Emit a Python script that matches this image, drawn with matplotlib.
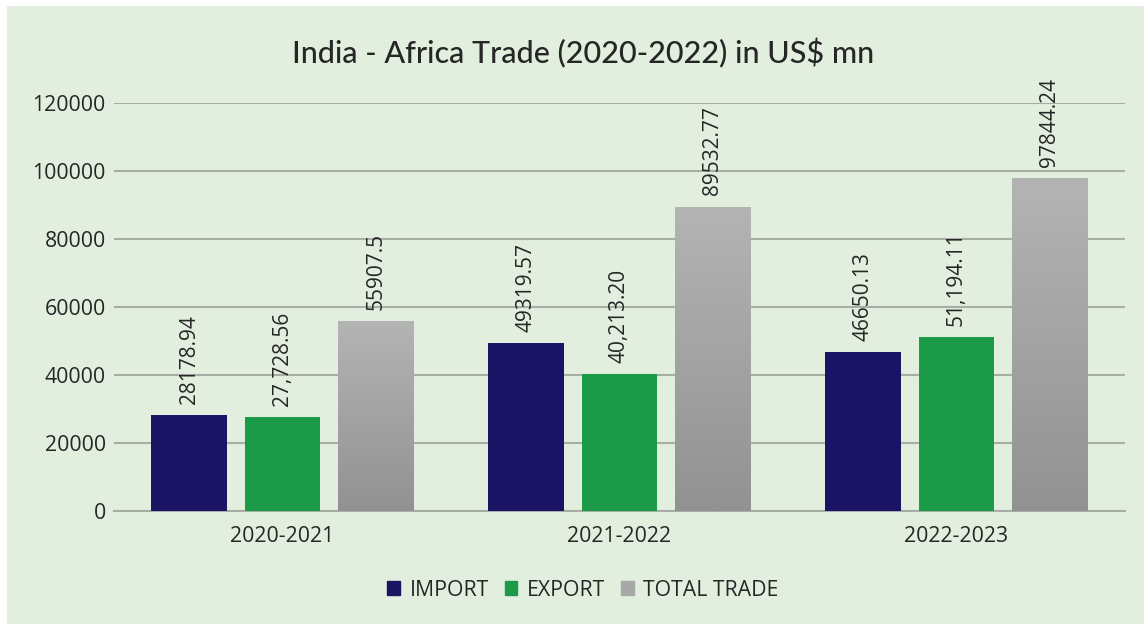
import matplotlib
matplotlib.use("Agg")
import matplotlib.pyplot as plt
from matplotlib.colors import LinearSegmentedColormap
from matplotlib.patches import Rectangle, Patch
import numpy as np

years = ["2020-2021", "2021-2022", "2022-2023"]
imports = [28178.94, 49319.57, 46650.13]
exports = [27728.56, 40213.20, 51194.11]
total_trade = [55907.5, 89532.77, 97844.24]
import_labels = ["28178.94", "49319.57", "46650.13"]
export_labels = ["27,728.56", "40,213.20", "51,194.11"]
total_labels = ["55907.5", "89532.77", "97844.24"]

BG = "#e2efdf"
NAVY = "#1b1464"
GREEN = "#1b9a48"
TXT = "#262626"
FONT = "Open Sans"

W, H = 1144, 624
fig = plt.figure(figsize=(W / 100, H / 100), dpi=100, facecolor="white")
fig.patches.append(Rectangle((7 / W, 0), 1 - 7 / W, 1 - 6 / H, transform=fig.transFigure,
                             facecolor=BG, edgecolor="none", zorder=-10))

# plot area: x 114..1125 px, y 103..511 px
ax = fig.add_axes([114 / W, 1 - 511 / H, 1011 / W, 408 / H])
ax.patch.set_alpha(0)

x = np.arange(len(years))
bw = 0.225
step = 0.277

b1 = ax.bar(x - step, imports, bw, color=NAVY, zorder=3)
b2 = ax.bar(x, exports, bw, color=GREEN, zorder=3)
b3 = ax.bar(x + step, total_trade, bw, color="none", zorder=3)

# vertical grey gradient inside the total trade bars
grey = LinearSegmentedColormap.from_list("grey", ["#929292", "#b4b4b4"])
grad = np.linspace(0, 1, 256).reshape(-1, 1)
for bar in b3:
    bx, bwid, bh = bar.get_x(), bar.get_width(), bar.get_height()
    im = ax.imshow(grad, extent=[bx, bx + bwid, 0, bh], origin="lower",
                   cmap=grey, aspect="auto", zorder=3)
    im.set_clip_path(bar)

for bars, labs in ((b1, import_labels), (b2, export_labels), (b3, total_labels)):
    for bar, lab in zip(bars, labs):
        ax.annotate(lab, (bar.get_x() + bar.get_width() / 2, bar.get_height()),
                    xytext=(0, 8), textcoords="offset points", rotation=90,
                    ha="center", va="bottom", fontsize=15, color=TXT,
                    family=FONT, annotation_clip=False)

ax.set_xlim(-0.5, 2.5)
ax.set_ylim(0, 120000)
ax.set_yticks(np.arange(0, 120001, 20000))
ax.set_yticklabels([str(v) for v in range(0, 120001, 20000)])
ax.set_xticks(x)
ax.set_xticklabels(years)
for lab in ax.get_xticklabels() + ax.get_yticklabels():
    lab.set_family(FONT)
    lab.set_fontsize(15.3)
    lab.set_color(TXT)
ax.tick_params(axis="y", length=0, pad=6)
ax.tick_params(axis="x", length=0, pad=11)
ax.grid(axis="y", color="#a8aea6", linewidth=1.5, zorder=0)
for s in ("left", "right", "top"):
    ax.spines[s].set_visible(False)
ax.spines["bottom"].set_color("#a8aea6")
ax.spines["bottom"].set_linewidth(1.5)

fig.text(583 / W, 1 - 63 / H, "India - Africa Trade (2020-2022) in US$ mn",
         ha="center", va="baseline", fontsize=22, color=TXT, family="Lato",
         fontweight="medium")

handles = [Patch(color=NAVY, label="IMPORT"), Patch(color=GREEN, label="EXPORT"),
           Patch(color="#a8a8a8", label="TOTAL TRADE")]
leg = fig.legend(handles=handles, loc="center", bbox_to_anchor=(583 / W, 1 - 590 / H),
                 ncol=3, frameon=False, handlelength=0.6, handleheight=0.6,
                 handletextpad=0.45, columnspacing=0.75,
                 prop={"family": FONT, "size": 15.3})
for t in leg.get_texts():
    t.set_color(TXT)

fig.savefig("out.png", dpi=100, facecolor="white")
